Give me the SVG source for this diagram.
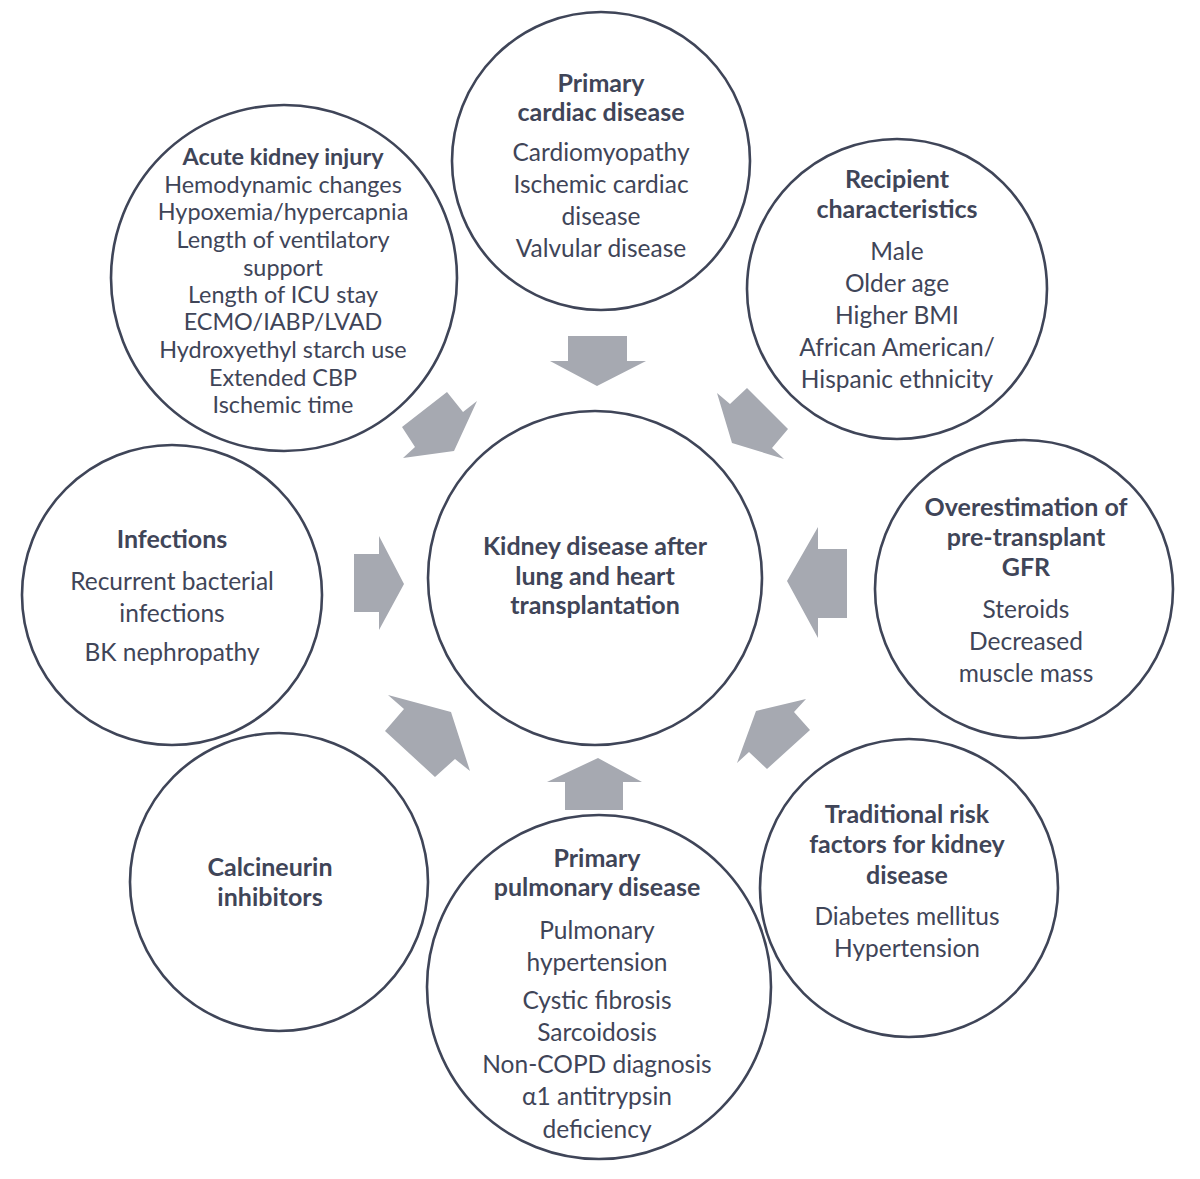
<svg xmlns="http://www.w3.org/2000/svg" width="1200" height="1179" viewBox="0 0 1200 1179">
<style>
.c{fill:#fff;stroke:#3f4558;stroke-width:2.6}
text{font-family:Lato,"Liberation Sans",sans-serif;fill:#3f4558;text-anchor:middle;font-size:24.5px}
.b{font-weight:bold;font-size:25px}
.s{font-size:23.4px}
.a{fill:#a6a9b1}
</style>
<rect width="1200" height="1179" fill="#fff"/>
<g id="connectors">
<polygon class="a" points="568,336 627,336 627,361 646,361 597,386 550,361 568,361"/>
<polygon class="a" points="732,443 717,393 730,404 747,388 788,429 772,448 784,459"/>
<polygon class="a" points="847,549 847,618 818,618 818,638 787,581 818,527 818,549"/>
<polygon class="a" points="756,711 806,699 794,712 810,730 767,769 749,752 737,763"/>
<polygon class="a" points="565,810 623,810 623,782 642,782 598,758 547,782 565,782"/>
<polygon class="a" points="451,712 470,771 455,759 435,777 385,731 404,709 388,695"/>
<polygon class="a" points="354,554 379,554 379,536 404,584 379,630 379,612 354,612"/>
<polygon class="a" points="447,392 463,412 477,401 454,451 403,458 415,447 402,427"/>
</g>
<g id="center">
<circle class="c" cx="595" cy="578" r="167"/>
<text class="b" x="595" y="555">Kidney disease after</text>
<text class="b" x="595" y="585">lung and heart</text>
<text class="b" x="595" y="614">transplantation</text>
</g>
<g id="cardiac">
<circle class="c" cx="601" cy="161" r="149"/>
<text class="b" x="601" y="92">Primary</text>
<text class="b" x="601" y="121">cardiac disease</text>
<text x="601" y="161">Cardiomyopathy</text>
<text x="601" y="193">Ischemic cardiac</text>
<text x="601" y="225">disease</text>
<text x="601" y="257">Valvular disease</text>
</g>
<g id="aki">
<circle class="c" cx="284" cy="278" r="173"/>
<text class="b s" x="283" y="165">Acute kidney injury</text>
<text class="s" x="283" y="193">Hemodynamic changes</text>
<text class="s" x="283" y="220">Hypoxemia/hypercapnia</text>
<text class="s" x="283" y="248">Length of ventilatory</text>
<text class="s" x="283" y="276">support</text>
<text class="s" x="283" y="303">Length of ICU stay</text>
<text class="s" x="283" y="330">ECMO/IABP/LVAD</text>
<text class="s" x="283" y="358">Hydroxyethyl starch use</text>
<text class="s" x="283" y="386">Extended CBP</text>
<text class="s" x="283" y="413">Ischemic time</text>
</g>
<g id="recipient">
<circle class="c" cx="897" cy="289" r="150"/>
<text class="b" x="897" y="188">Recipient</text>
<text class="b" x="897" y="218">characteristics</text>
<text x="897" y="260">Male</text>
<text x="897" y="292">Older age</text>
<text x="897" y="324">Higher BMI</text>
<text x="897" y="356">African American/</text>
<text x="897" y="388">Hispanic ethnicity</text>
</g>
<g id="gfr">
<circle class="c" cx="1024" cy="589" r="149"/>
<text class="b" x="1026" y="516">Overestimation of</text>
<text class="b" x="1026" y="546">pre-transplant</text>
<text class="b" x="1026" y="576">GFR</text>
<text x="1026" y="618">Steroids</text>
<text x="1026" y="650">Decreased</text>
<text x="1026" y="682">muscle mass</text>
</g>
<g id="traditional">
<circle class="c" cx="909" cy="888" r="149"/>
<text class="b" x="907" y="823">Traditional risk</text>
<text class="b" x="907" y="853">factors for kidney</text>
<text class="b" x="907" y="884">disease</text>
<text x="907" y="925">Diabetes mellitus</text>
<text x="907" y="957">Hypertension</text>
</g>
<g id="pulmonary">
<circle class="c" cx="599" cy="987" r="172"/>
<text class="b" x="597" y="867">Primary</text>
<text class="b" x="597" y="896">pulmonary disease</text>
<text x="597" y="939">Pulmonary</text>
<text x="597" y="971">hypertension</text>
<text x="597" y="1009">Cystic fibrosis</text>
<text x="597" y="1041">Sarcoidosis</text>
<text x="597" y="1073">Non-COPD diagnosis</text>
<text x="597" y="1105">α1 antitrypsin</text>
<text x="597" y="1138">deficiency</text>
</g>
<g id="calcineurin">
<circle class="c" cx="279" cy="882" r="149"/>
<text class="b" x="270" y="876">Calcineurin</text>
<text class="b" x="270" y="906">inhibitors</text>
</g>
<g id="infections">
<circle class="c" cx="172" cy="595" r="150"/>
<text class="b" x="172" y="548">Infections</text>
<text x="172" y="590">Recurrent bacterial</text>
<text x="172" y="622">infections</text>
<text x="172" y="661">BK nephropathy</text>
</g>
</svg>
